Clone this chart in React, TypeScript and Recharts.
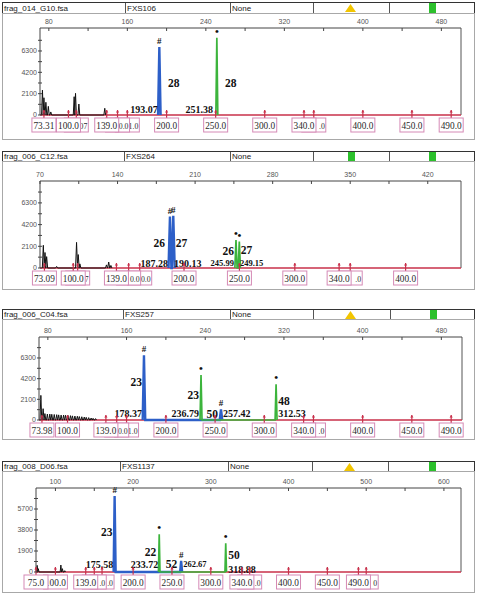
import React from 'react';
import { ComposedChart, Line, XAxis, YAxis, Scatter, ReferenceLine } from 'recharts';

type Peak = { size: number; height: number };
type Ann = { x: number; y: number; text: string; anchor: 'start' | 'end' | 'middle'; small?: boolean };

// ---------- Panel 1: frag_014_G10.fsa / FXS106 ----------
const p1Black: Peak[] = [
  { size: 73.5, height: 2450 }, { size: 75, height: 1700 }, { size: 77, height: 1250 },
  { size: 79.5, height: 850 }, { size: 82, height: 300 }, { size: 105.8, height: 1800 },
  { size: 107.2, height: 2130 }, { size: 110.6, height: 1080 }, { size: 137, height: 660 },
];
const p1Blue: Peak[] = [{ size: 192.6, height: 6700 }];
const p1Green: Peak[] = [{ size: 251.2, height: 7590 }];
const p1Markers = [75, 100, 108, 139, 150, 160, 200, 250, 300, 340, 350, 400, 450, 490];
// visible part of each size-standard box (boxes overlap; earlier boxes lie on top)
const p1MarkerLabels = ['73.31', '100.0', '07', '139.0', '0.0', '1.0', '200.0', '250.0', '300.0', '340.0', '.0', '400.0', '450.0', '490.0'];
const p1Labels: Ann[] = [
  { x: 201.4, y: 3150, text: '28', anchor: 'start' },
  { x: 259.6, y: 3150, text: '28', anchor: 'start' },
  { x: 191, y: 590, text: '193.07', anchor: 'end' },
  { x: 247.3, y: 590, text: '251.38', anchor: 'end' },
];
const p1XMajor = [80, 160, 240, 320, 400, 480];
const p1XMinor = [120, 200, 280, 360, 440];
const p1YMajor = [0, 2100, 4200, 6300];
const p1YMinor = [1050, 3150, 5250, 7350];
const p1Header = ['frag_014_G10.fsa', 'FXS106', 'None'];

// ---------- Panel 2: frag_006_C12.fsa / FXS264 ----------
const p2Black: Peak[] = [
  { size: 73, height: 2200 }, { size: 74.5, height: 1500 }, { size: 76, height: 1100 },
  { size: 85, height: 150 }, { size: 103, height: 2480 }, { size: 104.5, height: 1300 },
  { size: 106, height: 400 }, { size: 130, height: 300 }, { size: 132, height: 580 }, { size: 134, height: 250 },
];
const p2Blue: Peak[] = [{ size: 187.3, height: 4970 }, { size: 190.3, height: 5060 }];
const p2Green: Peak[] = [{ size: 246.9, height: 2710 }, { size: 249.9, height: 2550 }];
const p2Markers = [74, 100, 104, 139, 150, 160, 200, 250, 300, 340, 350, 400];
const p2MarkerLabels = ['73.09', '100.0', '7', '139.0', '0.0', '0.0', '200.0', '250.0', '300.0', '340.0', '.0', '400.0'];
const p2Labels: Ann[] = [
  { x: 182.8, y: 2420, text: '26', anchor: 'end' },
  { x: 192.5, y: 2420, text: '27', anchor: 'start' },
  { x: 185.5, y: 480, text: '187.28', anchor: 'end' },
  { x: 191, y: 480, text: '190.13', anchor: 'start' },
  { x: 245.1, y: 1650, text: '26', anchor: 'end' },
  { x: 251.1, y: 1700, text: '27', anchor: 'start' },
  { x: 245.1, y: 480, text: '245.99', anchor: 'end', small: true },
  { x: 250.5, y: 480, text: '249.15', anchor: 'start', small: true },
];
const p2XMajor = [70, 140, 210, 280, 350, 420];
const p2XMinor = [105, 175, 245, 315, 385];
const p2YMajor = [0, 2100, 4200, 6300];
const p2YMinor = [1050, 3150, 5250, 7350];
const p2Header = ['frag_006_C12.fsa', 'FXS264', 'None'];

// ---------- Panel 3: frag_006_C04.fsa / FXS257 ----------
const p3Black: Peak[] = [
  { size: 72.9, height: 2500 }, { size: 75.2, height: 1150 },
  { size: 77, height: 650 }, { size: 79.5, height: 600 }, { size: 82, height: 600 }, { size: 84, height: 580 },
  { size: 86.5, height: 560 }, { size: 89, height: 540 }, { size: 91, height: 520 }, { size: 93.5, height: 500 },
  { size: 96, height: 500 }, { size: 98, height: 480 }, { size: 100.5, height: 460 }, { size: 103, height: 440 },
  { size: 105, height: 420 }, { size: 107.5, height: 400 }, { size: 110, height: 380 }, { size: 112, height: 350 },
  { size: 114.5, height: 330 }, { size: 117, height: 300 }, { size: 119, height: 270 }, { size: 121.5, height: 240 },
  { size: 124, height: 200 }, { size: 126, height: 170 }, { size: 128.5, height: 140 },
];
const p3Blue: Peak[] = [{ size: 177.7, height: 6570 }, { size: 256, height: 1090 }];
const p3Green: Peak[] = [{ size: 235.7, height: 4570 }, { size: 312, height: 3630 }];
const p3Markers = [74, 100, 139, 150, 160, 200, 250, 300, 340, 350, 400, 450, 490];
const p3MarkerLabels = ['73.98', '100.0', '139.0', '0.0', '1.0', '200.0', '250.0', '300.0', '340.0', '.0', '400.0', '450.0', '490.0'];
const p3Labels: Ann[] = [
  { x: 175.7, y: 3860, text: '23', anchor: 'end' },
  { x: 175.7, y: 610, text: '178.37', anchor: 'end' },
  { x: 233.7, y: 2540, text: '23', anchor: 'end' },
  { x: 233.7, y: 610, text: '236.79', anchor: 'end' },
  { x: 253, y: 610, text: '50', anchor: 'end' },
  { x: 258.1, y: 610, text: '257.42', anchor: 'start' },
  { x: 314.1, y: 1930, text: '48', anchor: 'start' },
  { x: 314.1, y: 610, text: '312.53', anchor: 'start' },
];
const p3XMajor = [80, 160, 240, 320, 400, 480];
const p3XMinor = [120, 200, 280, 360, 440];
const p3YMajor = [0, 2100, 4200, 6300];
const p3YMinor = [1050, 3150, 5250, 7350];
const p3Header = ['frag_006_C04.fsa', 'FXS257', 'None'];

// ---------- Panel 4: frag_008_D06.fsa / FXS1137 ----------
const p4Black: Peak[] = [
  { size: 76.5, height: 600 }, { size: 78, height: 300 }, { size: 107, height: 630 },
  { size: 109, height: 300 }, { size: 112, height: 120 },
];
const p4Blue: Peak[] = [{ size: 176.2, height: 6880 }, { size: 261.8, height: 1000 }];
const p4Green: Peak[] = [{ size: 233.6, height: 3410 }, { size: 319.2, height: 2600 }];
const p4Markers = [75, 100, 139, 150, 160, 200, 250, 300, 340, 350, 400, 450, 490, 500];
const p4MarkerLabels = ['75.0', '100.0', '139.0', '.0', '.0', '200.0', '250.0', '300.0', '340.0', '.0', '400.0', '450.0', '490.0', '0'];
const p4Labels: Ann[] = [
  { x: 173.3, y: 3620, text: '23', anchor: 'end' },
  { x: 174.5, y: 720, text: '175.58', anchor: 'end' },
  { x: 229.8, y: 1810, text: '22', anchor: 'end' },
  { x: 232.4, y: 720, text: '233.72', anchor: 'end' },
  { x: 256.8, y: 720, text: '52', anchor: 'end' },
  { x: 264.5, y: 720, text: '262.67', anchor: 'start', small: true },
  { x: 322.4, y: 1540, text: '50', anchor: 'start' },
  { x: 322.4, y: 270, text: '318.88', anchor: 'start' },
];
const p4XMajor = [100, 200, 300, 400, 500, 600];
const p4XMinor = [150, 250, 350, 450, 550];
const p4YMajor = [0, 1900, 3800, 5700];
const p4YMinor = [950, 2850, 4750, 6650];
const p4Header = ['frag_008_D06.fsa', 'FXS1137', 'None'];

// ---------- rendering ----------
const SANS = 'Arial, "Liberation Sans", sans-serif';
const SERIF = '"Times New Roman", "Liberation Serif", serif';
const BLUE = '#2d5fc8';
const GREEN = '#3cb43c';
const RED = '#c8304a';

function trace(peaks: Peak[], hw: number) {
  const pts: { x: number; y: number }[] = [];
  peaks.forEach((p) => {
    pts.push({ x: p.size - hw, y: 0 });
    pts.push({ x: p.size, y: p.height });
    pts.push({ x: p.size + hw, y: 0 });
  });
  return pts;
}

type Layout = {
  headerTop: number; boxTop: number; boxBottom: number; plotTop: number; baseline: number;
  plotLeft: number; plotRight: number; xDomain: [number, number]; yMax: number;
  dividers: number[]; icons: { x: number; kind: 'tri' | 'sq' }[];
};

type PanelData = {
  black: Peak[]; blue: Peak[]; green: Peak[]; markers: number[]; markerLabels: string[];
  labels: Ann[]; xMajor: number[]; xMinor: number[]; yMajor: number[]; yMinor: number[]; header: string[];
};

const BOX_W = 24;

const MarkerShape = (props: any) => {
  const { cx, cy, payload } = props;
  const t: string = payload.text;
  const full = t.length >= 4;
  return (
    <g>
      <line x1={cx} x2={cx} y1={cy - 5} y2={cy + 3} stroke={RED} strokeWidth={1.2} />
      <path d={`M${cx - 1.6},${cy - 2.5} L${cx},${cy - 5} L${cx + 1.6},${cy - 2.5} Z`} fill={RED} />
      <rect x={cx - BOX_W / 2} y={cy + 3} width={BOX_W} height={14} fill="#fff" stroke="#d58ab6" strokeWidth={1} />
      <text x={full ? cx : cx + BOX_W / 2 - 1} y={cy + 13.5} textAnchor={full ? 'middle' : 'end'} fontSize={full ? 9.3 : 7.8}
        fontFamily={SERIF} fill="#2a2a2a">{t}</text>
    </g>
  );
};

const LabelShape = (props: any) => {
  const { cx, cy, payload } = props;
  const a: Ann = payload;
  return (
    <text x={cx} y={cy} dy="0.35em" textAnchor={a.anchor} fontSize={a.small ? 8.5 : a.text.length > 2 ? 10 : 11.5}
      fontWeight="bold" fontFamily={SERIF} fill="#111">{a.text}</text>
  );
};

const MarkShape = (props: any) => {
  const { cx, cy, payload } = props;
  if (payload.text === '#') {
    return <text x={cx} y={cy - 3} textAnchor="middle" fontSize={9} fontWeight="bold" fontFamily={SERIF} fill="#111">#</text>;
  }
  return <text x={cx} y={cy - 3} textAnchor="middle" fontSize={11} fontWeight="bold" fontFamily={SERIF} fill="#111">•</text>;
};

function Panel({ L, D }: { L: Layout; D: PanelData }) {
  const H = L.boxBottom - L.boxTop;
  const axisY = L.plotTop - L.boxTop;
  const topH = 10;
  const margin = { top: axisY - topH, right: 480 - L.plotRight, bottom: H - (L.baseline - L.boxTop), left: 0 };
  const markerData = D.markers.map((m, i) => ({ x: m, y: 0, text: D.markerLabels[i] })).reverse();
  const markData = [
    ...D.blue.map((p) => ({ x: p.size, y: p.height, text: '#' })),
    ...D.green.map((p) => ({ x: p.size, y: p.height, text: '•' })),
  ];
  const TopTick = (props: any) => {
    const { x, payload } = props;
    const major = D.xMajor.includes(payload.value);
    return (
      <g>
        <line x1={x} x2={x} y1={axisY} y2={axisY + 3} stroke="#444" />
        {major && (
          <text x={x} y={axisY - 4} textAnchor="middle" fontSize={7} fontFamily={SANS} fill="#555">{payload.value}</text>
        )}
      </g>
    );
  };
  const LeftTick = (props: any) => {
    const { y, payload } = props;
    const major = D.yMajor.includes(payload.value);
    return (
      <g>
        <line x1={L.plotLeft - 2} x2={L.plotLeft + 2} y1={y} y2={y} stroke="#444" />
        {major && (
          <text x={L.plotLeft - 3} y={y} dy="0.35em" textAnchor="end" fontSize={7} fontFamily={SANS} fill="#555">{payload.value}</text>
        )}
      </g>
    );
  };
  return (
    <>
      <div style={{ position: 'absolute', left: 2, top: L.headerTop, width: 473, height: L.boxTop - L.headerTop + 1, border: '1px solid #333', boxSizing: 'border-box', background: '#fff' }}>
        {L.dividers.map((d, i) => (
          <div key={i} style={{ position: 'absolute', left: d - 3, top: 0, width: 1, height: '100%', background: '#555' }} />
        ))}
        {[0, 1, 2].map((i) => (
          <div key={'t' + i} style={{ position: 'absolute', left: (i === 0 ? 2 : L.dividers[i - 1]) - 1, top: 0, fontFamily: SANS, fontSize: 8, lineHeight: `${L.boxTop - L.headerTop}px`, color: '#222', whiteSpace: 'nowrap' }}>
            {D.header[i]}
          </div>
        ))}
        {L.icons.map((ic, i) =>
          ic.kind === 'tri' ? (
            <svg key={'i' + i} width={11} height={8} style={{ position: 'absolute', left: ic.x - 3 - 5.5, top: 1 }}>
              <path d="M0,8 L5.5,0 L11,8 Z" fill="#f2c500" />
            </svg>
          ) : (
            <div key={'i' + i} style={{ position: 'absolute', left: ic.x - 3 - 3.5, top: 0, width: 7, height: L.boxTop - L.headerTop - 1, background: '#2cc02c' }} />
          )
        )}
      </div>
      <div style={{ position: 'absolute', left: 2, top: L.boxTop, width: 473, height: H, border: '1px solid #a8a8a8', boxSizing: 'border-box' }} />
      <div style={{ position: 'absolute', left: 0, top: L.boxTop }}>
        <ComposedChart width={480} height={H} margin={margin}>
          <XAxis xAxisId="t" type="number" dataKey="x" orientation="top" domain={L.xDomain}
            ticks={[...D.xMajor, ...D.xMinor]} interval={0} tickLine={false} axisLine={{ stroke: '#444' }}
            height={topH} tick={<TopTick />} />
          <YAxis yAxisId="l" type="number" dataKey="y" domain={[0, L.yMax]} ticks={[...D.yMajor, ...D.yMinor]}
            interval={0} width={L.plotLeft} tickLine={false} axisLine={{ stroke: '#444' }} tick={<LeftTick />} />
          <ReferenceLine xAxisId="t" yAxisId="l" x={L.xDomain[1]} stroke="#555" />
          <ReferenceLine xAxisId="t" yAxisId="l" y={0} stroke={RED} strokeWidth={1.3} />
          <Line xAxisId="t" yAxisId="l" data={trace(D.black, 0.9)} dataKey="y" stroke="#111" strokeWidth={1}
            dot={false} isAnimationActive={false} type="linear" />
          <Line xAxisId="t" yAxisId="l" data={trace(D.blue, 1.3)} dataKey="y" stroke={BLUE} strokeWidth={2.4}
            dot={false} isAnimationActive={false} type="linear" />
          <Line xAxisId="t" yAxisId="l" data={trace(D.green, 1.0)} dataKey="y" stroke={GREEN} strokeWidth={1.7}
            dot={false} isAnimationActive={false} type="linear" />
          <Scatter xAxisId="t" yAxisId="l" data={markData} dataKey="y" shape={<MarkShape />} isAnimationActive={false} />
          <Scatter xAxisId="t" yAxisId="l" data={D.labels} dataKey="y" shape={<LabelShape />} isAnimationActive={false} />
          <Scatter xAxisId="t" yAxisId="l" data={markerData} dataKey="y" shape={<MarkerShape />} isAnimationActive={false} />
        </ComposedChart>
      </div>
    </>
  );
}

const layouts: Layout[] = [
  { headerTop: 2, boxTop: 13, boxBottom: 140, plotTop: 28, baseline: 115, plotLeft: 40, plotRight: 461, xDomain: [71, 500], yMax: 8560,
    dividers: [125, 230, 313, 389], icons: [{ x: 350, kind: 'tri' }, { x: 432, kind: 'sq' }] },
  { headerTop: 151, boxTop: 161, boxBottom: 290, plotTop: 181, baseline: 268, plotLeft: 40, plotRight: 461, xDomain: [70, 450], yMax: 8420,
    dividers: [124, 230, 313, 389], icons: [{ x: 351, kind: 'sq' }, { x: 432, kind: 'sq' }] },
  { headerTop: 309, boxTop: 319, boxBottom: 440, plotTop: 337, baseline: 420, plotLeft: 39, plotRight: 462, xDomain: [71, 501], yMax: 8430,
    dividers: [123, 230, 313, 390], icons: [{ x: 350, kind: 'tri' }, { x: 433, kind: 'sq' }] },
  { headerTop: 461, boxTop: 471, boxBottom: 593, plotTop: 488, baseline: 572, plotLeft: 36, plotRight: 461, xDomain: [75, 622], yMax: 7600,
    dividers: [120, 228, 312, 388], icons: [{ x: 349, kind: 'tri' }, { x: 432, kind: 'sq' }] },
];

const panels: PanelData[] = [
  { black: p1Black, blue: p1Blue, green: p1Green, markers: p1Markers, markerLabels: p1MarkerLabels, labels: p1Labels,
    xMajor: p1XMajor, xMinor: p1XMinor, yMajor: p1YMajor, yMinor: p1YMinor, header: p1Header },
  { black: p2Black, blue: p2Blue, green: p2Green, markers: p2Markers, markerLabels: p2MarkerLabels, labels: p2Labels,
    xMajor: p2XMajor, xMinor: p2XMinor, yMajor: p2YMajor, yMinor: p2YMinor, header: p2Header },
  { black: p3Black, blue: p3Blue, green: p3Green, markers: p3Markers, markerLabels: p3MarkerLabels, labels: p3Labels,
    xMajor: p3XMajor, xMinor: p3XMinor, yMajor: p3YMajor, yMinor: p3YMinor, header: p3Header },
  { black: p4Black, blue: p4Blue, green: p4Green, markers: p4Markers, markerLabels: p4MarkerLabels, labels: p4Labels,
    xMajor: p4XMajor, xMinor: p4XMinor, yMajor: p4YMajor, yMinor: p4YMinor, header: p4Header },
];

export default function App() {
  return (
    <div style={{ position: 'absolute', left: 0, top: 0, width: 480, height: 596, background: '#fff', overflow: 'hidden' }}>
      {panels.map((d, i) => (
        <Panel key={i} L={layouts[i]} D={d} />
      ))}
    </div>
  );
}
